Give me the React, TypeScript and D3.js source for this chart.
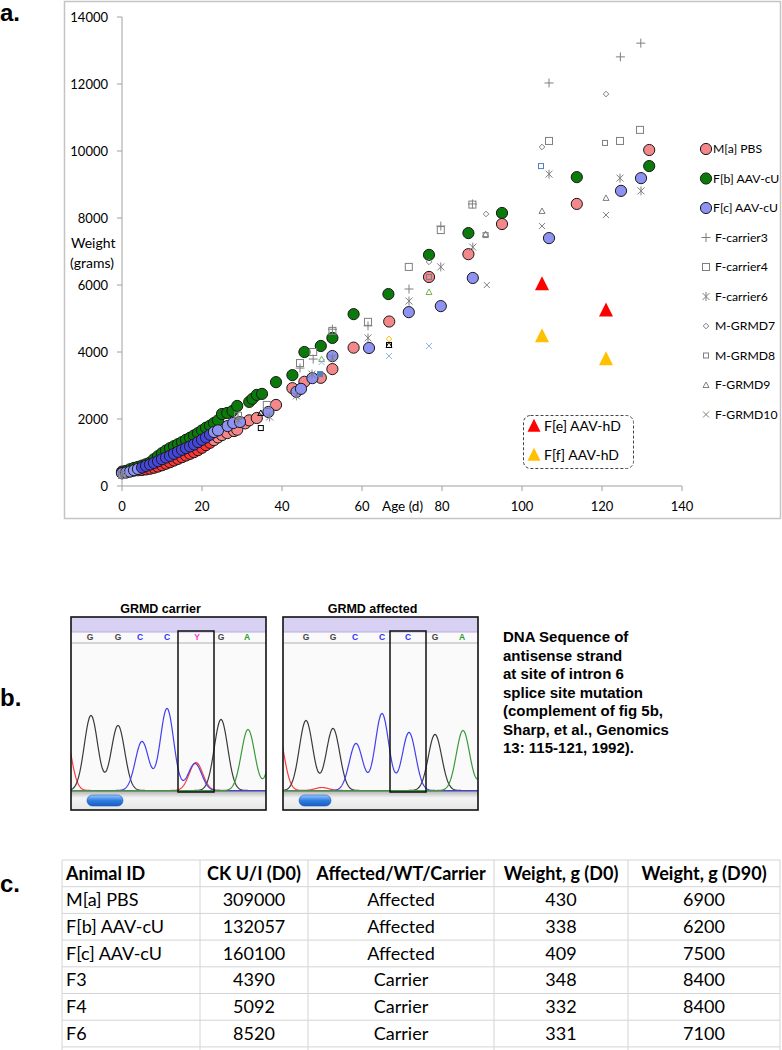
import React from "react";
import * as d3 from "d3";

// ---------- Panel a data: [age (d), weight (g)] ----------
const maPBS: number[][] = [[0,430],[1,440],[2,450],[3,460],[4,470],[5,480],[6,495],[7,515],[8,545],[9,580],[10,620],[11,665],[12,710],[13,760],[14,810],[15,860],[16,910],[17,960],[18,1010],[19,1070],[20,1140],[21,1220],[22,1290],[23,1370],[24,1450],[25,1520],[26.3,1580],[28,1640],[28.8,1680],[30.8,1870],[31.8,1960],[33.7,2030],[38.5,2420],[42.6,2920],[45.6,3110],[49.7,3230],[52.6,3490],[57.9,4130],[66.8,4910],[76.75,6240],[86.6,6920],[95,7820],[113.7,8420],[131.8,10030]];
const fbAAVcU: number[][] = [[0,400],[1,450],[2,500],[3,540],[4,570],[5,610],[6,650],[7,700],[8,800],[9,890],[10,980],[11,1060],[12,1130],[13,1190],[14,1250],[15,1310],[16,1380],[17,1440],[18,1510],[19,1580],[20,1660],[21,1740],[22,1800],[23,1880],[24,1960],[25,2150],[26.3,2180],[27.6,2240],[28.8,2390],[31.8,2510],[32.6,2600],[33.7,2720],[35,2750],[38.5,3100],[42.6,3310],[45.6,4000],[49.7,4180],[52.6,4420],[57.9,5130],[66.6,5730],[76.75,6900],[86.6,7550],[95,8150],[113.7,9220],[131.8,9550]];
const fcAAVcU: number[][] = [[0,380],[1,400],[2,430],[3,470],[4,510],[5,550],[6,600],[7,640],[8,690],[9,740],[10,800],[11,850],[12,900],[13,960],[14,1020],[15,1080],[16,1130],[17,1180],[18,1240],[19,1310],[20,1380],[21,1450],[22,1530],[23,1610],[24,1660],[26.4,1790],[27.8,1880],[29.5,1910],[36.6,2210],[43.6,2810],[44.75,2900],[47.6,3220],[52.6,3880],[61.75,4120],[71.7,5190],[79.7,5370],[87.7,6210],[106.75,7400],[124.75,8810],[129.75,9190]];
const fCarrier3: number[][] = [[0,348],[29,2060],[44.5,3520],[47.8,3790],[52.6,4680],[61.5,4780],[71.75,5880],[79.7,7760],[87.6,8420],[106.75,12030],[124.6,12810],[129.7,13220]];
const fCarrier4: number[][] = [[0,332],[29,2100],[36.2,2420],[44.5,3670],[47.8,4000],[52.6,4630],[61.5,4900],[71.7,6540],[79.7,7640],[87.6,8400],[106.75,10300],[124.5,10300],[129.5,10630]];
const fCarrier6: number[][] = [[0,331],[29,1970],[36.9,2060],[43.6,2690],[47.5,3340],[52.6,3820],[61.5,4420],[71.75,5520],[79.7,6540],[87.7,7130],[106.75,9310],[124.5,9190],[129.75,8810]];
const mGRMD7: number[][] = [[66.75,4390],[76.75,6690],[91,8120],[105,10120],[121,11700]];
const mGRMD8: number[][] = [[34.7,1730],[49.5,3340],[66.75,4210],[76.75,6240],[90.9,7490],[104.75,9550],[120.75,10240]];
const fGRMD9: number[][] = [[34.7,2180],[49.9,3790],[66.75,4210],[76.75,5790],[90.9,7520],[105,8210],[121,8600]];
const fGRMD10: number[][] = [[49.9,3700],[66.75,3880],[76.75,4180],[91.2,6000],[105,7760],[121,8090]];
const feAAVhD: number[][] = [[105,6030],[121,5250]];
const ffAAVhD: number[][] = [[105,4480],[121,3790]];

// per-point marker tints (style only)
const grmd7Tint = ["#ffc000", null, null, null, null];
const grmd8Tint = ["#000000", "#4f81bd", "#000000", null, null, "#4f81bd", null];
const grmd9Tint = ["#000000", "#77b255", "#000000", "#77b255", null, null, null];
const grmd10Tint = ["#8db4e2", "#8db4e2", "#8db4e2", null, null, null];

const yTicks = [0, 2000, 4000, 6000, 8000, 10000, 12000, 14000];
const xTicks = [0, 20, 40, 60, 80, 100, 120, 140];

const legendNames = ["M[a] PBS", "F[b] AAV-cU", "F[c] AAV-cU", "F-carrier3", "F-carrier4", "F-carrier6", "M-GRMD7", "M-GRMD8", "F-GRMD9", "F-GRMD10"];
const insetNames = ["F[e] AAV-hD", "F[f] AAV-hD"];

// ---------- Panel b ----------
const carrierLetters = ["G", "G", "C", "C", "Y", "G", "A"];
const carrierLetterX = [90, 118, 140, 167, 197, 221, 247];
const affectedLetters = ["G", "G", "C", "C", "C", "G", "A"];
const affectedLetterX = [306, 333, 355, 382, 408, 435, 462];
const carrierPeaks: [number, number, string][] = [[64,62,"R"],[91,75,"K"],[118,65,"K"],[142,49,"B"],[167,82,"B"],[195,27,"B"],[196,28,"R"],[221,71,"K"],[248,61,"G"],[277,62,"G"]];
const affectedPeaks: [number, number, string][] = [[277,62,"R"],[322,3,"R"],[306,70,"K"],[333,62,"K"],[435,56,"K"],[356,47,"B"],[382,77,"B"],[409,58,"B"],[463,60,"G"],[492,60,"G"]];
const dnaText = ["DNA Sequence of", "antisense strand", "at site of intron 6", "splice site mutation", "(complement of fig 5b,", "Sharp, et al., Genomics", "13: 115-121, 1992)."];

// ---------- Panel c ----------
const tableHeader = ["Animal ID", "CK U/I (D0)", "Affected/WT/Carrier", "Weight, g (D0)", "Weight, g (D90)"];
const animalIds = ["M[a] PBS", "F[b] AAV-cU", "F[c] AAV-cU", "F3", "F4", "F6"];
const ckValues = ["309000", "132057", "160100", "4390", "5092", "8520"];
const status = ["Affected", "Affected", "Affected", "Carrier", "Carrier", "Carrier"];
const weightD0 = ["430", "338", "409", "348", "332", "331"];
const weightD90 = ["6900", "6200", "7500", "8400", "8400", "7100"];

const FONT = "Lato, 'Open Sans', sans-serif";
const HFONT = "'Liberation Sans', Arial, sans-serif";
const GRAY = "#7f7f7f";

const x = d3.scaleLinear().domain([0, 140]).range([122, 682]);
const y = d3.scaleLinear().domain([0, 14000]).range([486, 17]);

type MK = "plus" | "sq" | "star" | "dia" | "sqs" | "tri" | "x";
function Marker({ kind, cx, cy, color }: { kind: MK; cx: number; cy: number; color?: string | null }) {
  const c = color || GRAY;
  const sw = 1;
  switch (kind) {
    case "plus":
      return <path d={`M${cx - 4.5},${cy}H${cx + 4.5}M${cx},${cy - 4.5}V${cy + 4.5}`} stroke={c} strokeWidth={sw} fill="none" />;
    case "sq":
      return <rect x={cx - 3.5} y={cy - 3.5} width={7} height={7} stroke={c} strokeWidth={sw} fill="none" />;
    case "star":
      return <path d={`M${cx - 3.5},${cy - 3.5}L${cx + 3.5},${cy + 3.5}M${cx - 3.5},${cy + 3.5}L${cx + 3.5},${cy - 3.5}M${cx},${cy - 4.5}V${cy + 4.5}`} stroke={c} strokeWidth={sw} fill="none" />;
    case "dia":
      return <path d={`M${cx},${cy - 2.8}L${cx + 2.8},${cy}L${cx},${cy + 2.8}L${cx - 2.8},${cy}Z`} stroke={c} strokeWidth={sw} fill="none" />;
    case "sqs":
      return <rect x={cx - 2.5} y={cy - 2.5} width={5} height={5} stroke={c} strokeWidth={sw} fill={c === "#4f81bd" && cy > 300 ? c : "none"} />;
    case "tri":
      return <path d={`M${cx},${cy - 3}L${cx + 3},${cy + 2.5}L${cx - 3},${cy + 2.5}Z`} stroke={c} strokeWidth={sw} fill="none" />;
    case "x":
      return <path d={`M${cx - 3},${cy - 3}L${cx + 3},${cy + 3}M${cx - 3},${cy + 3}L${cx + 3},${cy - 3}`} stroke={c} strokeWidth={sw} fill="none" />;
  }
  return null;
}

function tri(cx: number, cy: number, s: number) {
  return `M${cx},${cy - s * 0.55}L${cx + s / 2},${cy + s * 0.45}L${cx - s / 2},${cy + s * 0.45}Z`;
}

const circleSeries = [
  { data: maPBS, fill: "#f4878a", dense: "#ff3535" },
  { data: fbAAVcU, fill: "#0a7a0a", dense: "#0a7a0a" },
  { data: fcAAVcU, fill: "#8e92f2", dense: "#4646dc" },
];
const markerSeries: { data: number[][]; kind: MK; tint?: (string | null)[] }[] = [
  { data: fCarrier3, kind: "plus" },
  { data: fCarrier4, kind: "sq" },
  { data: fCarrier6, kind: "star" },
  { data: mGRMD7, kind: "dia", tint: grmd7Tint },
  { data: mGRMD8, kind: "sqs", tint: grmd8Tint },
  { data: fGRMD9, kind: "tri", tint: grmd9Tint },
  { data: fGRMD10, kind: "x", tint: grmd10Tint },
];

function PanelA() {
  const legY = (i: number) => 149 + i * 29.5;
  return (
    <g>
      <rect x={64.5} y={1.5} width={716} height={517} fill="#fff" stroke="#c4c4c4" strokeWidth={1.5} />
      <text x={0} y={21} fontFamily={HFONT} fontWeight="bold" fontSize={24}>a.</text>
      <line x1={x(0)} x2={x(0)} y1={y(14000)} y2={y(0)} stroke="#a0a0a0" />
      <line x1={x(0)} x2={x(140)} y1={y(0)} y2={y(0)} stroke="#a0a0a0" />
      {yTicks.map((t) => (
        <g key={"yt" + t}>
          <line x1={x(0) - 5} x2={x(0)} y1={y(t)} y2={y(t)} stroke="#a0a0a0" />
          <text x={108} y={y(t)} dy="0.35em" textAnchor="end" fontFamily={FONT} fontSize={13}>{t}</text>
        </g>
      ))}
      {xTicks.map((t) => (
        <g key={"xt" + t}>
          <line x1={x(t)} x2={x(t)} y1={y(0)} y2={y(0) + 5} stroke="#a0a0a0" />
          <text x={x(t)} y={506} dy="0.35em" textAnchor="middle" fontFamily={FONT} fontSize={13}>{t}</text>
        </g>
      ))}
      <text x={71} y={243} dy="0.35em" fontFamily={FONT} fontSize={14}>Weight</text>
      <text x={70} y={263} dy="0.35em" fontFamily={FONT} fontSize={14}>(grams)</text>
      <text x={382} y={506} dy="0.35em" fontFamily={FONT} fontSize={13.5}>Age (d)</text>

      {circleSeries.map((s, si) => (
        <g key={"cs" + si}>
          {s.data.map((d, i) => (
            <circle key={i} cx={x(d[0])} cy={y(d[1])} r={5.6} fill={d[0] >= 5 && d[0] <= 22 ? s.dense : s.fill} stroke="#1a1a1a" strokeWidth={1} />
          ))}
        </g>
      ))}
      {markerSeries.map((s, si) => (
        <g key={"ms" + si}>
          {s.data.map((d, i) => (
            <Marker key={i} kind={s.kind} cx={x(d[0])} cy={y(d[1])} color={s.tint ? s.tint[i] : null} />
          ))}
        </g>
      ))}
      {feAAVhD.map((d, i) => <path key={"fe" + i} d={tri(x(d[0]), y(d[1]), 14)} fill="#ff0000" />)}
      {ffAAVhD.map((d, i) => <path key={"ff" + i} d={tri(x(d[0]), y(d[1]), 14)} fill="#ffc000" />)}

      {legendNames.map((n, i) => {
        const cy = legY(i);
        let mk: any;
        if (i < 3) mk = <circle cx={706} cy={cy} r={5.6} fill={circleSeries[i].fill} stroke="#1a1a1a" />;
        else mk = <Marker kind={markerSeries[i - 3].kind} cx={706} cy={cy} />;
        return (
          <g key={"lg" + i}>
            {mk}
            <text x={i < 3 ? 713 : 715} y={cy} dy="0.35em" fontFamily={FONT} fontSize={12.2}>{n}</text>
          </g>
        );
      })}
      <rect x={523.5} y={415.5} width={110} height={53} rx={7} fill="#fff" stroke="#444" strokeDasharray="3 2" />
      {insetNames.map((n, i) => (
        <g key={"in" + i}>
          <path d={tri(534, 426 + i * 29, 13)} fill={i === 0 ? "#ff0000" : "#ffc000"} />
          <text x={544} y={426 + i * 29} dy="0.35em" fontFamily={FONT} fontSize={14}>{n}</text>
        </g>
      ))}
    </g>
  );
}

const traceColors: Record<string, string> = { R: "#ff3b3b", K: "#3a3a3a", B: "#4040f0", G: "#3a9a3a" };
const letterColors: Record<string, string> = { G: "#444", C: "#3030ff", Y: "#ff33cc", A: "#2f9a2f" };

function Chromatogram({ x0, title, letters, letterX, peaks, hl, id }: { x0: number; title: string; letters: string[]; letterX: number[]; peaks: [number, number, string][]; hl: number; id: string }) {
  const w = 195, top = 617, band = 632, lineY = 643, base = 790.5, bottom = 810;
  const xs = d3.range(x0 - 2, x0 + w + 2, 0.5);
  const line = d3.line<number[]>().x((d) => d[0]).y((d) => d[1]);
  const sigma = 6.7;
  const traces = ["R", "K", "B", "G"].map((col) => {
    const pk = peaks.filter((p) => p[2] === col);
    const pts = xs.map((xx) => [xx, base - pk.reduce((s, p) => s + p[1] * Math.exp(-((xx - p[0]) ** 2) / (2 * sigma * sigma)), 0)]);
    return { col, pts };
  });
  return (
    <g>
      <text x={x0 + w / 2 - 8} y={613} textAnchor="middle" fontFamily={HFONT} fontWeight="bold" fontSize={12.5}>{title}</text>
      <defs>
        <clipPath id={"clip" + id}><rect x={x0} y={lineY} width={w} height={base - lineY + 1} /></clipPath>
        <linearGradient id={"bar" + id} x1="0" x2="0" y1="0" y2="1">
          <stop offset="0" stopColor="#b8b8b8" />
          <stop offset="0.35" stopColor="#f4f4f4" />
          <stop offset="1" stopColor="#e6e6e6" />
        </linearGradient>
        <linearGradient id={"pill" + id} x1="0" x2="0" y1="0" y2="1">
          <stop offset="0" stopColor="#9cc8ff" />
          <stop offset="0.5" stopColor="#2f7de0" />
          <stop offset="1" stopColor="#1a5cc0" />
        </linearGradient>
      </defs>
      <rect x={x0} y={top} width={w} height={bottom - top} fill="#fafafa" />
      <rect x={x0} y={top} width={w} height={band - top} fill="#d9d1f4" />
      <line x1={x0} x2={x0 + w} y1={band} y2={band} stroke="#b5acd8" />
      {letters.map((l, i) => (
        <text key={i} x={letterX[i]} y={637} dy="0.35em" textAnchor="middle" fontFamily={HFONT} fontWeight="bold" fontSize={8.5} fill={letterColors[l]}>{l}</text>
      ))}
      <line x1={x0} x2={x0 + w} y1={lineY} y2={lineY} stroke="#b0b0b0" />
      <g clipPath={`url(#clip${id})`}>
        {traces.map((t) => (
          <path key={t.col} d={line(t.pts) || ""} fill="none" stroke={traceColors[t.col]} strokeWidth={1.2} />
        ))}
      </g>
      <rect x={x0} y={base + 1} width={w} height={bottom - base - 1} fill={`url(#bar${id})`} />
      <line x1={x0} x2={x0 + w} y1={base + 1} y2={base + 1} stroke="#888" />
      <rect x={x0 + 16} y={795} width={id === "L" ? 36 : 32} height={11} rx={5.5} fill={`url(#pill${id})`} stroke="#1d5fb8" strokeWidth={0.6} />
      <rect x={hl} y={631} width={36} height={161} fill="none" stroke="#111" strokeWidth={1.5} />
      <rect x={x0} y={top} width={w} height={bottom - top} fill="none" stroke="#111" strokeWidth={1.6} />
    </g>
  );
}

function PanelB() {
  return (
    <g>
      <text x={0} y={706} fontFamily={HFONT} fontWeight="bold" fontSize={24}>b.</text>
      <Chromatogram x0={71} title="GRMD carrier" letters={carrierLetters} letterX={carrierLetterX} peaks={carrierPeaks} hl={178} id="L" />
      <Chromatogram x0={283} title="GRMD affected" letters={affectedLetters} letterX={affectedLetterX} peaks={affectedPeaks} hl={390} id="R" />
      {dnaText.map((t, i) => (
        <text key={i} x={503} y={637 + i * 18.5} dy="0.35em" fontFamily={HFONT} fontWeight="bold" fontSize={15}>{t}</text>
      ))}
    </g>
  );
}

function PanelC() {
  const cols = [62, 200, 308, 494, 628, 780];
  const top = 860, rh = 26.7;
  const rows = animalIds.map((a, i) => [a, ckValues[i], status[i], weightD0[i], weightD90[i]]);
  const all = [tableHeader, ...rows];
  const hLines = d3.range(0, all.length + 1).map((i) => top + i * rh);
  return (
    <g>
      <text x={0} y={892} fontFamily={HFONT} fontWeight="bold" fontSize={24}>c.</text>
      {hLines.map((yy, i) => <line key={"h" + i} x1={cols[0]} x2={cols[5]} y1={yy} y2={yy} stroke="#d4d4d4" />)}
      {cols.map((cx, i) => <line key={"v" + i} x1={cx} x2={cx} y1={top} y2={1050} stroke="#d4d4d4" />)}
      {all.map((r, ri) => r.map((c, ci) => (
        <text key={ri + "-" + ci}
          x={ci === 0 ? cols[0] + 4 : (cols[ci] + cols[ci + 1]) / 2}
          y={top + ri * rh + rh / 2} dy="0.35em"
          textAnchor={ci === 0 ? "start" : "middle"}
          fontFamily={FONT} fontSize={18} fontWeight={ri === 0 ? "bold" : "normal"}>{c}</text>
      )))}
    </g>
  );
}

export default function App() {
  return (
    <svg width={782} height={1050} style={{ position: "absolute", left: 0, top: 0, background: "#fff" }}>
      <rect width={782} height={1050} fill="#fff" />
      <PanelA />
      <PanelB />
      <PanelC />
    </svg>
  );
}
